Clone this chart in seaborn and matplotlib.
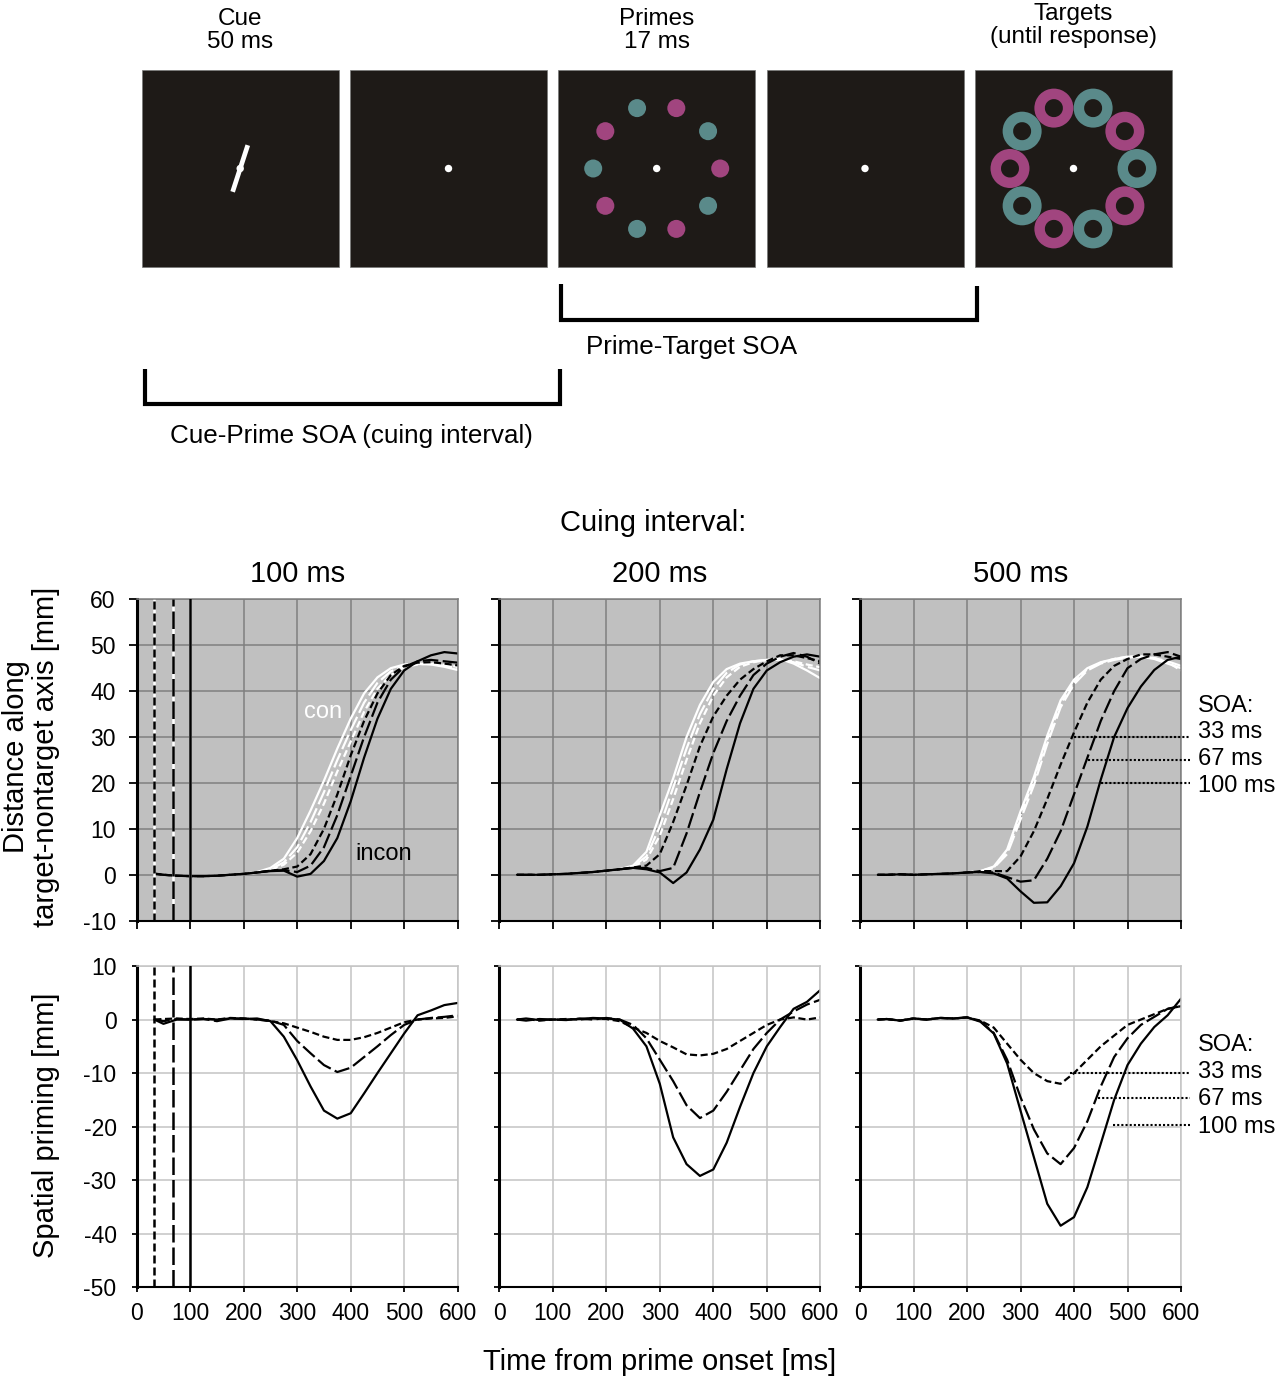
import matplotlib
matplotlib.use("Agg")
import numpy as np
import pandas as pd
import seaborn as sns
import matplotlib.pyplot as plt
from matplotlib.patches import Rectangle, Circle, Wedge

sns.set_theme(style="ticks")
plt.rcParams['font.family'] = ['Liberation Sans', 'DejaVu Sans']
plt.rcParams['axes.unicode_minus'] = False
plt.rcParams['text.color'] = 'black'
plt.rcParams['axes.labelcolor'] = 'black'

# ---------------- data ----------------
time_ms = [33, 50, 75, 100, 125, 150, 175, 200, 225, 250, 275, 300,
           325, 350, 375, 400, 425, 450, 475, 500, 525, 550, 575, 600]
soa_levels = ["33", "67", "100"]
soa_labels = ["33 ms", "67 ms", "100 ms"]
cue_titles = ["100 ms", "200 ms", "500 ms"]

# distance along target-nontarget axis [mm]
con_cue100 = {
    "33": [0.3, 0.0, -0.2, -0.3, -0.3, -0.2, 0.0, 0.2, 0.4, 1.0, 2.2, 4.8, 9.5, 15.5, 22.5, 29.0, 35.5, 40.5, 43.5, 45.2, 45.8, 46.0, 45.7, 45.3],
    "67": [0.2, 0.0, -0.2, -0.3, -0.3, -0.2, 0.0, 0.2, 0.5, 1.2, 2.7, 6.0, 11.5, 18.0, 25.0, 31.5, 37.5, 41.8, 44.3, 45.5, 45.9, 45.9, 45.5, 45.0],
    "100": [0.2, 0.0, -0.2, -0.3, -0.3, -0.2, 0.0, 0.2, 0.6, 1.5, 3.5, 8.0, 14.0, 20.5, 27.5, 34.0, 39.5, 43.0, 45.0, 45.8, 46.0, 45.8, 45.3, 44.6],
}
incon_cue100 = {
    "33": [0.3, 0.0, -0.2, -0.3, -0.3, -0.2, 0.0, 0.2, 0.5, 0.9, 1.2, 1.8, 4.5, 10.0, 17.5, 26.0, 33.5, 39.5, 43.5, 45.5, 46.2, 46.3, 46.0, 45.6],
    "67": [0.2, 0.0, -0.2, -0.3, -0.3, -0.2, 0.0, 0.2, 0.5, 0.9, 1.0, 0.6, 2.0, 6.0, 13.0, 21.5, 30.0, 37.5, 42.5, 45.3, 46.5, 46.8, 46.5, 46.2],
    "100": [0.2, 0.0, -0.2, -0.3, -0.3, -0.2, 0.0, 0.2, 0.5, 0.8, 0.9, -0.4, 0.2, 3.0, 8.0, 16.0, 25.5, 34.0, 40.5, 44.5, 46.5, 47.8, 48.5, 48.2],
}
con_cue200 = {
    "33": [0.0, 0.0, 0.0, 0.1, 0.2, 0.4, 0.6, 0.9, 1.2, 1.7, 3.3, 8.5, 16.5, 25.0, 33.0, 39.0, 43.0, 45.3, 46.3, 46.8, 46.8, 46.5, 45.8, 45.2],
    "67": [0.0, 0.0, 0.0, 0.1, 0.2, 0.4, 0.6, 0.9, 1.2, 1.8, 4.0, 10.5, 19.0, 27.5, 35.0, 40.5, 44.0, 45.8, 46.5, 46.8, 46.8, 46.3, 45.3, 44.5],
    "100": [0.0, 0.0, 0.0, 0.1, 0.2, 0.4, 0.6, 0.9, 1.2, 2.0, 5.0, 13.0, 21.0, 30.0, 37.0, 42.0, 44.8, 46.0, 46.5, 46.8, 47.0, 46.0, 44.5, 42.8],
}
incon_cue200 = {
    "33": [0.0, 0.0, 0.0, 0.1, 0.2, 0.4, 0.6, 0.9, 1.2, 1.6, 2.0, 4.5, 11.5, 19.5, 28.0, 34.5, 39.0, 42.5, 44.8, 46.5, 47.8, 47.8, 47.2, 46.5],
    "67": [0.0, 0.0, 0.0, 0.1, 0.2, 0.4, 0.6, 0.9, 1.2, 1.5, 1.5, 0.8, 1.5, 9.0, 18.0, 26.5, 33.5, 39.0, 43.5, 46.0, 47.5, 48.3, 47.5, 46.0],
    "100": [0.0, 0.0, 0.0, 0.1, 0.2, 0.4, 0.6, 0.9, 1.2, 1.5, 1.2, 0.5, -1.8, 0.5, 5.5, 12.0, 23.0, 33.0, 40.5, 44.5, 46.3, 47.5, 48.0, 47.5],
}
con_cue500 = {
    "33": [0.0, 0.0, 0.1, 0.0, 0.1, 0.2, 0.3, 0.5, 0.8, 1.6, 5.0, 13.0, 20.5, 29.5, 37.3, 42.0, 44.8, 46.2, 47.0, 47.5, 47.6, 47.2, 46.3, 44.5],
    "67": [0.0, 0.0, 0.1, 0.0, 0.1, 0.2, 0.3, 0.5, 0.8, 1.5, 4.5, 12.0, 19.5, 28.5, 36.5, 41.5, 44.5, 46.0, 46.8, 47.3, 47.5, 47.2, 46.5, 45.5],
    "100": [0.0, 0.0, 0.1, 0.0, 0.1, 0.2, 0.3, 0.5, 0.8, 1.8, 5.5, 13.8, 21.3, 30.3, 38.0, 42.5, 45.0, 46.3, 47.0, 47.5, 47.5, 47.0, 46.0, 45.0],
}
incon_cue500 = {
    "33": [0.0, 0.0, 0.1, 0.0, 0.1, 0.2, 0.3, 0.5, 0.8, 0.8, 0.8, 4.0, 9.5, 16.5, 24.0, 31.0, 37.5, 42.5, 45.5, 47.0, 48.0, 48.0, 47.5, 47.0],
    "67": [0.0, 0.0, 0.1, 0.0, 0.1, 0.2, 0.3, 0.5, 0.6, 0.5, -0.5, -1.5, -1.2, 3.5, 9.5, 17.5, 25.5, 33.5, 40.0, 45.0, 47.0, 48.0, 48.5, 47.5],
    "100": [0.0, 0.0, 0.1, 0.0, 0.1, 0.2, 0.3, 0.5, 0.6, 0.3, -0.8, -3.6, -6.1, -6.0, -2.5, 2.5, 10.5, 20.7, 30.0, 36.3, 41.0, 44.6, 46.8, 47.5],
}

# spatial priming [mm]
prime_cue100 = {
    "33": [0.0, 0.1, 0.2, 0.1, 0.2, 0.0, 0.3, 0.2, 0.0, -0.3, -0.7, -1.5, -2.3, -3.2, -3.8, -3.8, -3.3, -2.5, -1.5, -0.5, 0.0, 0.2, 0.3, 0.6],
    "67": [0.0, -0.3, 0.1, 0.0, 0.1, -0.3, 0.2, 0.2, 0.0, -0.2, -1.0, -4.0, -6.3, -8.5, -9.8, -9.0, -7.0, -5.0, -2.9, -1.0, 0.0, 0.3, 0.5, 0.8],
    "100": [0.0, -0.8, 0.0, 0.0, 0.1, 0.0, 0.2, 0.1, 0.2, -0.3, -3.2, -7.6, -12.5, -17.0, -18.5, -17.5, -13.8, -10.0, -6.3, -2.6, 0.8, 1.7, 2.7, 3.1],
}
prime_cue200 = {
    "33": [0.0, 0.1, -0.2, 0.0, 0.1, 0.0, 0.2, 0.1, -0.3, -1.5, -2.5, -4.0, -5.2, -6.5, -6.7, -6.4, -5.5, -4.0, -2.5, -1.0, 0.0, 0.4, 0.0, 0.4],
    "67": [0.0, -0.2, 0.1, 0.0, -0.1, 0.2, 0.0, 0.3, 0.0, -1.0, -3.5, -7.5, -11.5, -16.0, -18.4, -17.0, -13.5, -9.5, -5.5, -2.5, 0.0, 1.5, 2.8, 3.7],
    "100": [0.0, 0.2, -0.1, 0.0, 0.0, 0.1, 0.3, 0.2, 0.0, -1.7, -5.0, -12.0, -22.0, -27.0, -29.2, -28.0, -23.0, -16.3, -10.0, -5.0, -1.4, 2.0, 3.3, 5.5],
}
prime_cue500 = {
    "33": [0.0, 0.1, -0.2, 0.2, 0.0, 0.3, 0.2, 0.4, -0.2, -1.5, -4.5, -7.5, -10.0, -11.5, -12.0, -10.0, -7.5, -5.0, -3.0, -1.0, 0.0, 1.0, 2.0, 2.5],
    "67": [0.0, 0.1, -0.2, 0.2, 0.0, 0.3, 0.2, 0.4, -0.3, -2.5, -7.5, -14.5, -20.5, -25.0, -27.0, -24.0, -19.0, -12.5, -7.0, -3.5, -1.0, 0.5, 2.0, 2.5],
    "100": [0.0, 0.1, -0.2, 0.2, 0.0, 0.3, 0.2, 0.4, -0.4, -2.6, -8.2, -17.0, -25.7, -34.4, -38.5, -36.9, -31.3, -23.2, -15.0, -8.5, -4.5, -1.4, 0.8, 3.9],
}

dist_con = [con_cue100, con_cue200, con_cue500]
dist_incon = [incon_cue100, incon_cue200, incon_cue500]
priming = [prime_cue100, prime_cue200, prime_cue500]

# SOA call-outs on the right-hand panels: leader start (x, y) and label heights
lead_dist_x = [400, 427, 450]
lead_dist_y = [30, 25, 20]
label_dist_y = [29.8, 23.9, 18.0]
lead_prime_x = [392, 445, 473]
lead_prime_y = [-10, -14.7, -19.7]
label_prime_y = [-11.0, -16.0, -21.2]

# ---------------- styling ----------------
MAGENTA = "#a1457f"
TEAL = "#5a8a8a"
SCREEN = "#1e1a17"
soa_dashes = {"33": (3.2, 1.6), "67": (7, 2), "100": ""}
vline_styles = [(0, (3.2, 1.6)), (0, (7, 2)), "-"]

FIG_W, FIG_H = 1278, 1378
fig = plt.figure(figsize=(FIG_W / 100, FIG_H / 100), dpi=100)


def px_axes(left, top, width, height):
    return fig.add_axes([left / FIG_W, 1 - (top + height) / FIG_H,
                         width / FIG_W, height / FIG_H])


def long_frame(curves):
    rows = []
    for soa in soa_levels:
        for t, v in zip(time_ms, curves[soa]):
            rows.append((t, v, soa))
    return pd.DataFrame(rows, columns=["time", "value", "soa"])


# overlay in pixel coordinates for the schematic and shared labels
ov = fig.add_axes([0, 0, 1, 1])
ov.set_xlim(0, FIG_W)
ov.set_ylim(FIG_H, 0)
ov.axis('off')

# --- trial schematic ---
screen_left = [141.7, 350.0, 558.2, 766.5, 975.0]
screen_top, screen_size = 70, 197
screen_titles = [("Cue", "50 ms"), None, ("Primes", "17 ms"), None,
                 ("Targets", "(until response)")]
for i, left in enumerate(screen_left):
    ov.add_patch(Rectangle((left, screen_top), screen_size, screen_size,
                           facecolor=SCREEN, edgecolor="#777777", lw=0.5))
    cx, cy = left + screen_size / 2, screen_top + screen_size / 2
    if i == 0:
        a = np.deg2rad(72)
        dx, dy = 24.5 * np.cos(a), 24.5 * np.sin(a)
        ov.plot([cx - dx, cx + dx], [cy + dy, cy - dy], color="white",
                lw=3.4, solid_capstyle="butt")
    if i == 2:
        for k in range(10):
            a = np.deg2rad(36 * k)
            ov.add_patch(Circle((cx + 63.5 * np.cos(a), cy - 63.5 * np.sin(a)), 9,
                                color=MAGENTA if k % 2 == 0 else TEAL, lw=0))
    if i == 4:
        for k in range(10):
            a = np.deg2rad(36 * k)
            ov.add_patch(Wedge((cx + 63.5 * np.cos(a), cy - 63.5 * np.sin(a)), 19.5,
                               0, 360, width=10.5,
                               color=TEAL if k % 2 == 0 else MAGENTA, lw=0))
    ov.add_patch(Circle((cx, cy), 3.7, color="white", lw=0))
    if screen_titles[i]:
        shift = -5 if i == 4 else 0
        ov.text(cx, 25 + shift, screen_titles[i][0], ha="center", va="baseline", fontsize=17.5)
        ov.text(cx, 48 + shift, screen_titles[i][1], ha="center", va="baseline", fontsize=17.5)

ov.plot([561, 561, 977, 977], [284, 320, 320, 286], color="black", lw=3,
        solid_joinstyle="miter", solid_capstyle="butt")
ov.text(692, 354, "Prime-Target SOA", ha="center", va="baseline", fontsize=18.7)
ov.plot([145, 145, 560, 560], [369, 404, 404, 369], color="black", lw=3,
        solid_joinstyle="miter", solid_capstyle="butt")
ov.text(351, 443, "Cue-Prime SOA (cuing interval)", ha="center", va="baseline", fontsize=18.7)

# --- shared labels ---
ov.text(653, 531, "Cuing interval:", ha="center", va="baseline", fontsize=21)
ov.text(660, 1370, "Time from prime onset [ms]", ha="center", va="baseline", fontsize=21)
ov.text(16, 757, "Distance along", rotation=90, ha="center", va="center", fontsize=21)
ov.text(46, 757, "target-nontarget axis [mm]", rotation=90, ha="center", va="center", fontsize=21)
ov.text(46, 1125, "Spatial priming [mm]", rotation=90, ha="center", va="center", fontsize=21)

# ---------------- data panels ----------------
col_left = [136.7, 499.3, 860.0]
PANEL_W = 321


def style_axes(ax, face, grid_c, tick_len, yticks, ylim, show_x, show_y):
    ax.set_facecolor(face)
    ax.set_xlim(0, 600)
    ax.set_ylim(*ylim)
    ax.set_xticks(range(0, 601, 100))
    ax.set_yticks(yticks)
    ax.grid(True, color=grid_c, lw=1.1)
    ax.set_axisbelow(True)
    ax.set_xlabel("")
    ax.set_ylabel("")
    ax.spines["left"].set(color="black", lw=2.2)
    ax.spines["bottom"].set(color="black", lw=1.5)
    for s in ("top", "right"):
        ax.spines[s].set(color=grid_c, lw=1.1)
    ax.tick_params(axis="both", direction="out", length=tick_len, width=1.3,
                   colors="black", labelsize=16.5)
    ax.tick_params(axis="x", pad=7, labelbottom=show_x)
    ax.tick_params(axis="y", pad=9 if tick_len > 4 else 11, labelleft=show_y)


for j in range(3):
    left = col_left[j]
    ax_d = px_axes(left, 599.3, PANEL_W, 321.4)
    ax_p = px_axes(left, 966.0, PANEL_W, 321.3)

    sns.lineplot(data=long_frame(dist_con[j]), x="time", y="value", style="soa",
                 style_order=soa_levels, dashes=soa_dashes, color="white", lw=1.6,
                 estimator=None, sort=False, legend=False, ax=ax_d)
    sns.lineplot(data=long_frame(dist_incon[j]), x="time", y="value", style="soa",
                 style_order=soa_levels, dashes=soa_dashes, color="black", lw=1.6,
                 estimator=None, sort=False, legend=False, ax=ax_d)
    sns.lineplot(data=long_frame(priming[j]), x="time", y="value", style="soa",
                 style_order=soa_levels, dashes=soa_dashes, color="black", lw=1.6,
                 estimator=None, sort=False, legend=False, ax=ax_p)

    style_axes(ax_d, "#c0c0c0", "#7f7f7f", 6, range(-10, 61, 10), (-10, 60), False, j == 0)
    style_axes(ax_p, "white", "#c4c4c4", 3.5, range(-50, 11, 10), (-50, 10), True, j == 0)

    ov.text(left + PANEL_W / 2, 582, cue_titles[j], ha="center", va="baseline", fontsize=21)

    if j == 0:
        for soa, ls in zip(soa_levels, vline_styles):
            ax_d.axvline(int(soa), color="white", lw=1.8, zorder=2.5)
            ax_d.axvline(int(soa), color="black", lw=1.8, ls=ls, zorder=2.6)
            ax_p.axvline(int(soa), color="black", lw=1.8, ls=ls, zorder=2.6)
        ax_d.text(348, 34.2, "con", color="white", fontsize=17, ha="center", va="baseline")
        ax_d.text(461, 3.2, "incon", color="black", fontsize=17, ha="center", va="baseline")

    if j == 2:
        for ax, lx, ly, ty, head in ((ax_d, lead_dist_x, lead_dist_y, label_dist_y, 35.5),
                                     (ax_p, lead_prime_x, lead_prime_y, label_prime_y, -5.8)):
            ax.text(632, head, "SOA:", fontsize=17, va="baseline", clip_on=False)
            for lab, x0, y0, y1 in zip(soa_labels, lx, ly, ty):
                ax.plot([x0, 616.5], [y0, y0], color="black", lw=1.5,
                        ls=(0, (1, 1)), clip_on=False, zorder=3)
                ax.text(632, y1, lab, fontsize=17, va="baseline", clip_on=False)

fig.savefig("out.png", dpi=100)
